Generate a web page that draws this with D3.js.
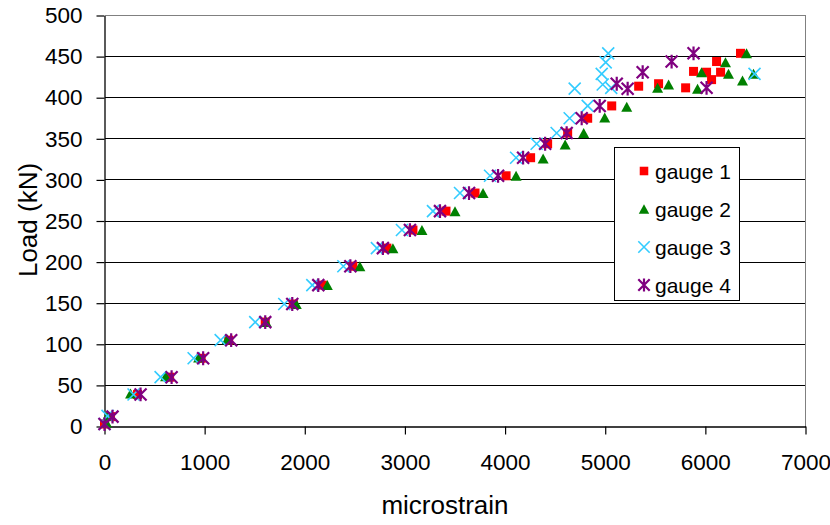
<!DOCTYPE html>
<html>
<head>
<meta charset="utf-8">
<script src="https://cdn.jsdelivr.net/npm/d3@7"></script>
<style>
  html, body { margin: 0; padding: 0; background: #fff; }
  svg { display: block; font-family: Arial, "Liberation Sans", sans-serif; }
</style>
</head>
<body>
<svg id="chart" width="830" height="525"></svg>
<script>
// Load (kN) versus microstrain readings for four strain gauges
const gauge1Strain = [0, 60, 330, 650, 965, 1240, 1605, 1885, 2175, 2480, 2820, 3080, 3410, 3700, 4010, 4255, 4425, 4625, 4825, 5065, 5334, 5533, 5803, 5882, 6012, 6062, 6112, 6152, 6351];
const gauge1Load   = [3, 12, 39, 60, 83, 105, 127, 149, 172, 195, 217, 239, 262, 284, 305, 327, 344, 357, 375, 390, 414, 417, 412, 432, 431, 422, 444, 431, 454];

const gauge2Strain = [20, 30, 260, 610, 940, 1225, 1615, 1915, 2225, 2550, 2880, 3170, 3500, 3780, 4110, 4380, 4600, 4785, 4995, 5215, 5523, 5633, 5922, 5962, 6201, 6231, 6371, 6411, 6481];
const gauge2Load   = [5, 13, 40, 61, 84, 106, 127, 149, 172, 195, 217, 239, 262, 284, 305, 326, 343, 357, 376, 389, 412, 416, 411, 431, 443, 429, 421, 454, 429];

const gauge3Strain = [0, 30, 290, 560, 890, 1160, 1505, 1795, 2075, 2385, 2720, 2970, 3280, 3550, 3850, 4110, 4315, 4515, 4645, 4825, 4695, 4975, 5060, 4965, 5005, 5030, 6491];
const gauge3Load   = [3, 13, 39, 60, 83, 105, 127, 149, 172, 195, 217, 239, 262, 284, 305, 327, 344, 357, 375, 390, 411, 416, 412, 429, 443, 454, 429];

const gauge4Strain = [0, 80, 360, 670, 985, 1265, 1605, 1875, 2135, 2455, 2780, 3050, 3350, 3640, 3930, 4180, 4400, 4615, 4765, 4945, 5115, 5224, 5374, 5663, 5882, 6012];
const gauge4Load   = [3, 12, 39, 60, 83, 105, 127, 149, 172, 195, 217, 239, 262, 284, 305, 327, 344, 357, 375, 390, 417, 411, 431, 444, 454, 412];

const seriesNames = ["gauge 1", "gauge 2", "gauge 3", "gauge 4"];
const xTicks = [0, 1000, 2000, 3000, 4000, 5000, 6000, 7000];
const yTicks = [0, 50, 100, 150, 200, 250, 300, 350, 400, 450, 500];

const series = [
  { name: seriesNames[0], xs: gauge1Strain, ys: gauge1Load, color: "#ff0000", shape: "square" },
  { name: seriesNames[1], xs: gauge2Strain, ys: gauge2Load, color: "#008000", shape: "triangle" },
  { name: seriesNames[2], xs: gauge3Strain, ys: gauge3Load, color: "#33ccff", shape: "cross" },
  { name: seriesNames[3], xs: gauge4Strain, ys: gauge4Load, color: "#800080", shape: "star" }
];

const svg = d3.select("#chart");
const plot = { left: 104.5, right: 805.5, top: 15.5, bottom: 426.5 };

const x = d3.scaleLinear().domain([0, 7000]).range([plot.left, plot.right]);
const y = d3.scaleLinear().domain([0, 500]).range([plot.bottom, plot.top]);

// horizontal gridlines
svg.append("g")
  .selectAll("line")
  .data(yTicks.filter(v => v > 0 && v < 500))
  .join("line")
  .attr("x1", plot.left).attr("x2", plot.right)
  .attr("y1", d => y(d)).attr("y2", d => y(d))
  .attr("stroke", "#000").attr("stroke-width", 1)
  .attr("shape-rendering", "crispEdges");

// plot-area frame (top and right)
svg.append("path")
  .attr("d", `M${plot.left},${plot.top}H${plot.right}V${plot.bottom}`)
  .attr("fill", "none").attr("stroke", "#808080").attr("stroke-width", 1)
  .attr("shape-rendering", "crispEdges");

// axes
const xAxis = svg.append("g")
  .attr("transform", `translate(0,${plot.bottom})`)
  .call(d3.axisBottom(x).tickValues(xTicks).tickSize(8).tickSizeOuter(0).tickPadding(20).tickFormat(d3.format("d")));
const yAxis = svg.append("g")
  .attr("transform", `translate(${plot.left},0)`)
  .call(d3.axisLeft(y).tickValues(yTicks).tickSize(8).tickSizeOuter(0).tickPadding(14).tickFormat(d3.format("d")));

[xAxis, yAxis].forEach(g => {
  g.select(".domain").attr("stroke", "#000").attr("stroke-width", 1.3);
  g.selectAll(".tick line").attr("stroke", "#000").attr("stroke-width", 1.2);
  g.selectAll(".tick text").attr("fill", "#000").attr("font-size", 22.5)
    .attr("font-family", "Arial, 'Liberation Sans', sans-serif");
});

// axis titles
svg.append("text")
  .attr("x", 445).attr("y", 514)
  .attr("text-anchor", "middle").attr("font-size", 26).attr("fill", "#000")
  .text("microstrain");
svg.append("text")
  .attr("transform", "translate(37,220) rotate(-90)")
  .attr("text-anchor", "middle").attr("font-size", 26).attr("fill", "#000")
  .text("Load (kN)");

// marker drawing
function drawMarker(g, shape, color, scale = 1) {
  if (shape === "square") {
    const s = 9 * scale;
    g.append("rect").attr("x", -s / 2).attr("y", -s / 2).attr("width", s).attr("height", s).attr("fill", color);
  } else if (shape === "triangle") {
    const w = 11 * scale, h = 10 * scale;
    g.append("path").attr("d", `M0,${-h / 2}L${w / 2},${h / 2}L${-w / 2},${h / 2}Z`).attr("fill", color);
  } else if (shape === "cross") {
    const r = 6 * scale;
    g.append("path").attr("d", `M${-r},${-r}L${r},${r}M${-r},${r}L${r},${-r}`)
      .attr("stroke", color).attr("stroke-width", 1.6).attr("fill", "none");
  } else {
    const r = 6 * scale;
    g.append("path").attr("d", `M${-r},${-r}L${r},${r}M${-r},${r}L${r},${-r}M0,${-r * 1.15}V${r * 1.15}`)
      .attr("stroke", color).attr("stroke-width", 2.2).attr("fill", "none");
  }
}

const marks = svg.append("g");
series.forEach(s => {
  const sg = marks.append("g").attr("class", "series");
  s.xs.forEach((xv, i) => {
    const g = sg.append("g").attr("transform", `translate(${x(xv)},${y(s.ys[i])})`);
    drawMarker(g, s.shape, s.color);
  });
});

// legend
const legend = svg.append("g");
legend.append("rect")
  .attr("x", 614.5).attr("y", 147.5).attr("width", 125).attr("height", 153)
  .attr("fill", "#fff").attr("stroke", "#000").attr("stroke-width", 1);
series.forEach((s, i) => {
  const cy = 171 + i * 38;
  const g = legend.append("g").attr("transform", `translate(644,${cy})`);
  drawMarker(g, s.shape, s.color, 0.95);
  legend.append("text")
    .attr("x", 655).attr("y", cy + 7.5)
    .attr("font-size", 21).attr("fill", "#000")
    .text(s.name);
});
</script>
</body>
</html>
